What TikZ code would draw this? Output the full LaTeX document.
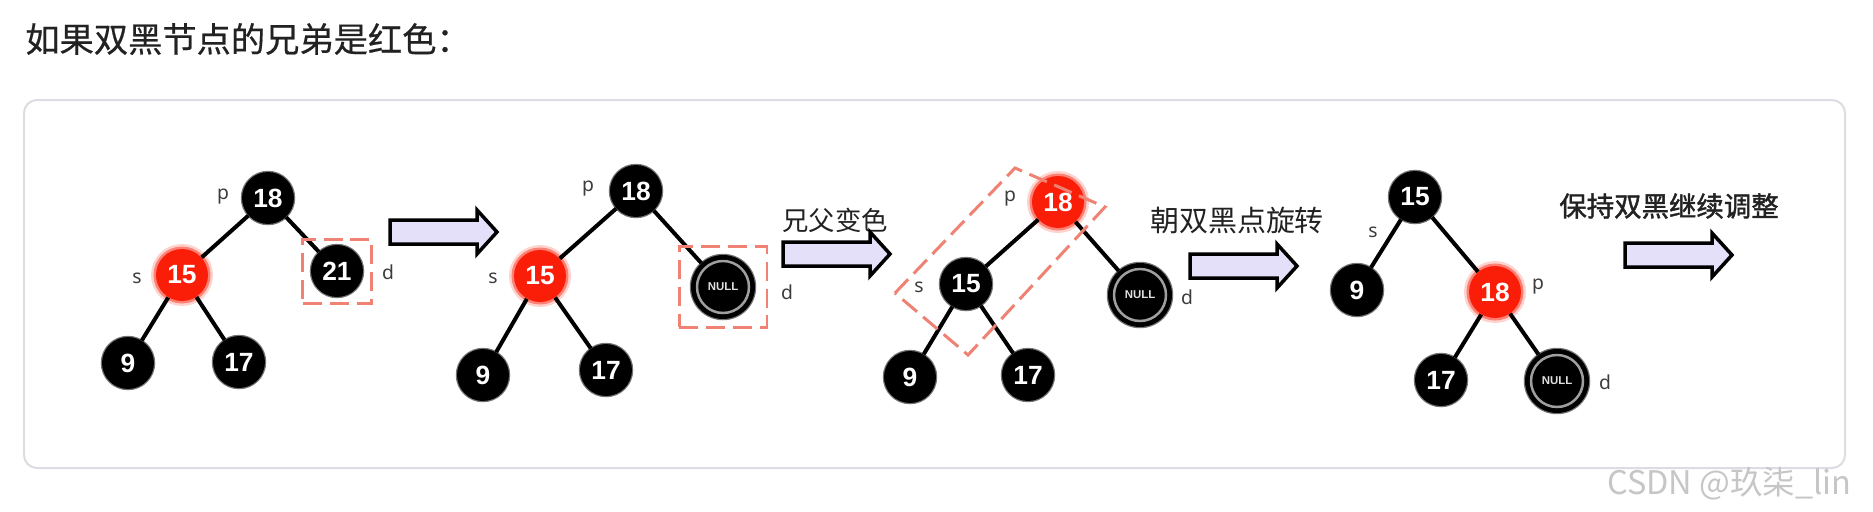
\documentclass[tikz,border=0pt]{standalone}
\usepackage{fontspec}
\setmainfont{Noto Sans}
\newfontfamily\numfont{Liberation Sans}
\newfontfamily\cjk{Noto Sans CJK SC}
\newfontfamily\cjkmid[FakeBold=0.5]{Noto Sans CJK SC}
\newfontfamily\cjkbold[FakeBold=1.5]{Noto Sans CJK SC}
\usepackage{xcolor}
\usetikzlibrary{positioning}

\definecolor{nodered}{RGB}{250,30,8}
\definecolor{hlred}{RGB}{240,130,115}
\definecolor{arrowfill}{RGB}{228,224,250}
\definecolor{framegray}{RGB}{220,220,226}
\definecolor{lblgray}{RGB}{60,60,60}
\definecolor{titleblack}{RGB}{34,34,34}

\tikzset{
  fatarrow/.pic={
    \draw[line width=0.07cm, fill=arrowfill, line join=miter]
      (0,-12) -- (87,-12) -- (87,-22) -- (107,0) -- (87,22) -- (87,12) -- (0,12) -- cycle;
  }
}

\begin{document}
\begin{tikzpicture}[x=0.02cm, y=-0.02cm,
    nodebase/.style={circle, text=white, minimum size=1.04cm, inner sep=0pt,
      font=\numfont\bfseries\fontsize{15}{16}\selectfont},
    bnode/.style={nodebase, fill=black,
      preaction={draw=black, line width=0.05cm, draw opacity=0.55}},
    rnode/.style={nodebase, fill=nodered,
      preaction={draw=nodered, line width=0.2cm, draw opacity=0.2},
      preaction={draw=nodered, line width=0.1cm, draw opacity=0.45}},
    nullnode/.style={circle, fill=black, text=white!88!black, minimum size=1.28cm, inner sep=0pt,
      font=\numfont\bfseries\fontsize{6.5}{7}\selectfont,
      preaction={draw=black, line width=0.05cm, draw opacity=0.55},
      path picture={\draw[gray!75, line width=0.05cm] (path picture bounding box.center) circle (0.52cm);}},
    link/.style={draw, line width=0.08cm},
    lbl/.style={text=lblgray, inner sep=0pt, font=\fontsize{11}{12}\selectfont},
    hlbox/.style={draw=hlred, line width=0.06cm, dash pattern=on 0.38cm off 0.16cm},
    note/.style={inner sep=0pt, text=titleblack}]

  \useasboundingbox[fill=white] (0,0) rectangle (1873,511);

  % heading and frame
  \node[note, anchor=west, font=\cjkmid\fontsize{19.5}{20}\selectfont] (title) at (25,39) {如果双黑节点的兄弟是红色：};
  \draw[framegray, line width=0.04cm, rounded corners=0.26cm] (24,100) rectangle (1845,468);

  % tree 1
  \node[bnode] (a18) at (268,198) {18};
  \node[rnode] (a15) at (182,275) {15};
  \node[bnode] (a21) at (337,271) {21};
  \node[bnode] (a9) at (128,363) {9};
  \node[bnode] (a17) at (239,362) {17};
  \draw[link] (a18) -- (a15) (a18) -- (a21) (a15) -- (a9) (a15) -- (a17);
  \node[lbl] (ap) at (223,197) {p};
  \node[lbl] (as) at (137,278) {s};
  \node[lbl] (ad) at (388,272) {d};
  \node[hlbox, minimum width=1.38cm, minimum height=1.28cm] (abox) at (a21) {};

  \pic at (390,232) {fatarrow};

  % tree 2
  \node[bnode] (b18) at (636,191) {18};
  \node[rnode] (b15) at (540,276) {15};
  \node[nullnode] (bnull) at (723,287) {NULL};
  \node[bnode] (b9) at (483,375) {9};
  \node[bnode] (b17) at (606,370) {17};
  \draw[link] (b18) -- (b15) (b18) -- (bnull) (b15) -- (b9) (b15) -- (b17);
  \node[lbl] (bp) at (588,189) {p};
  \node[lbl] (bs) at (493,278) {s};
  \node[lbl] (bd) at (787,292) {d};
  \node[hlbox, minimum width=1.76cm, minimum height=1.62cm] (bbox) at (bnull) {};

  \node[note, font=\cjk\fontsize{15}{16}\selectfont] (step1) at (835,220) {兄父变色};
  \pic at (783,254) {fatarrow};

  % tree 3
  \node[rnode] (c18) at (1058,202) {18};
  \node[bnode] (c15) at (966,284) {15};
  \node[nullnode] (cnull) at (1140,295) {NULL};
  \node[bnode] (c9) at (910,377) {9};
  \node[bnode] (c17) at (1028,375) {17};
  \draw[link] (c18) -- (c15) (c18) -- (cnull) (c15) -- (c9) (c15) -- (c17);
  \node[lbl] (cp) at (1010,199) {p};
  \node[lbl] (cs) at (919,287) {s};
  \node[lbl] (cd) at (1187,297) {d};
  \draw[hlbox] (895,293) -- (1015,168) -- (1105,207) -- (968,355) -- cycle;

  \node[note, font=\cjk\fontsize{16.5}{17}\selectfont] (step2) at (1237,221) {朝双黑点旋转};
  \pic at (1190,266) {fatarrow};

  % tree 4
  \node[bnode] (d15) at (1415,197) {15};
  \node[bnode] (d9) at (1357,290) {9};
  \node[rnode] (d18) at (1495,292) {18};
  \node[bnode] (d17) at (1441,380) {17};
  \node[nullnode] (dnull) at (1557,381) {NULL};
  \draw[link] (d15) -- (d9) (d15) -- (d18) (d18) -- (d17) (d18) -- (dnull);
  \node[lbl] (ds) at (1373,232) {s};
  \node[lbl] (dp) at (1538,287) {p};
  \node[lbl] (dd) at (1605,382) {d};

  \node[note, font=\cjkbold\fontsize{15.6}{16}\selectfont] (step3) at (1669,206) {保持双黑继续调整};
  \pic at (1625,255) {fatarrow};

  % watermark
  \node[anchor=west, inner sep=0pt, text=gray!45, font=\cjk\fontsize{18.5}{19}\selectfont] (mark) at (1607,484) {CSDN @玖柒\_lin};
\end{tikzpicture}
\end{document}
